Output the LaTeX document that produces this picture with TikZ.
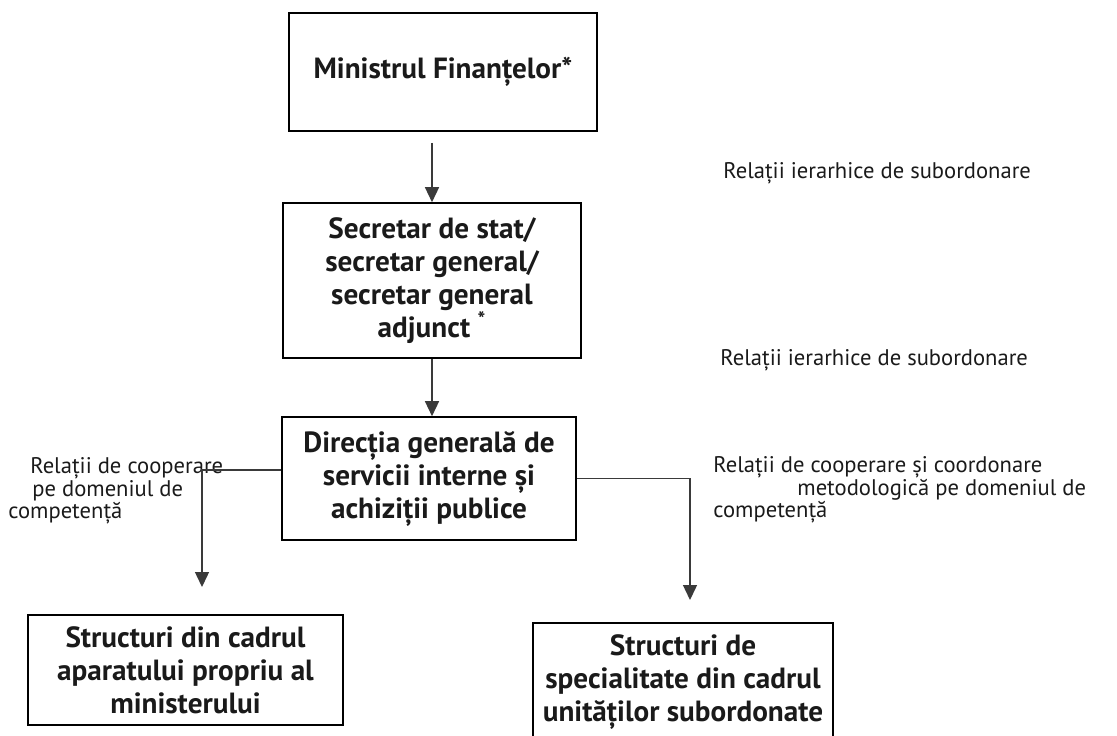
\documentclass[tikz,border=0pt]{standalone}
\usepackage{fontspec}
\setmainfont{PT Sans}
\usetikzlibrary{arrows.meta,positioning}
\definecolor{ln}{HTML}{3A3A3A}
\definecolor{tx}{HTML}{1A1A1A}
\tikzset{
  box/.style={draw=black, line width=0.8pt, align=center, inner sep=0pt, text=tx, font=\fontsize{14.6}{16.5}\selectfont\bfseries},
  lbl/.style={text=tx, align=left, inner sep=0pt, font=\fontsize{11.3}{11.2}\selectfont},
  edge/.style={-{Triangle[length=7.5pt,width=7pt]}, ln, line width=0.7pt},
}
\begin{document}
\begin{tikzpicture}[x=0.5pt,y=-0.5pt]
  \useasboundingbox (0,0) rectangle (1117,735);
  \node[box, minimum width=154pt, minimum height=59pt] (min) at (443,72) {Ministrul Finanțelor*};
  \node[box, minimum width=149pt, minimum height=77.5pt] (secr) at (432,280.5) {Secretar de stat/\\secretar general/\\secretar general\\adjunct \textsuperscript{*}};
  \node[box, minimum width=147pt, minimum height=61.5pt] (dir) at (429,478.5) {Direcția generală de\\servicii interne și\\achiziții publice};
  \node[box, minimum width=157.5pt, minimum height=55pt] (aparat) at (185.5,670) {Structuri din cadrul\\aparatului propriu al\\ministerului};
  \node[box, minimum width=150pt, minimum height=59.5pt] (unit) at (683,682.5) {Structuri de\\specialitate din cadrul\\unităților subordonate};

  \node[lbl, anchor=west] (ier1) at (723,173) {Relații ierarhice de subordonare};
  \node[lbl, anchor=west] (ier2) at (720,360) {Relații ierarhice de subordonare};
  \node[lbl, anchor=west] (coopL) at (8,491) {\hspace*{11pt}Relații de cooperare\\\hspace*{12pt}pe domeniul de\\competență};
  \node[lbl, anchor=west] (coopR) at (713,490) {Relații de cooperare și coordonare\\\hspace*{42pt}metodologică pe domeniul de\\competență};

  \coordinate (lk) at (202,470);
  \coordinate (ltip) at (202,587);
  \coordinate (rk) at (690,478.5);
  \coordinate (rtip) at (690,600);

  \draw[edge, shorten <=5.5pt] (secr.north |- min.south) -- (secr.north);
  \draw[edge] (secr.south) -- (secr.south |- dir.north);
  \draw[edge] (dir.west |- lk) -- (lk) -- (ltip);
  \draw[edge] (dir.east) -- (rk) -- (rtip);
\end{tikzpicture}
\end{document}
